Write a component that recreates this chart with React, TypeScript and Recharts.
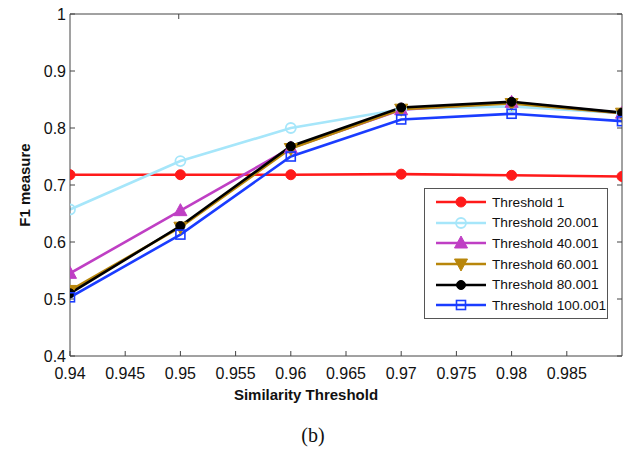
import React from "react";
import { LineChart, Line, XAxis, YAxis } from "recharts";

const xValues = [0.94, 0.95, 0.96, 0.97, 0.98, 0.99];
const xTicks = [0.94, 0.945, 0.95, 0.955, 0.96, 0.965, 0.97, 0.975, 0.98, 0.985];
const yTicks = [0.4, 0.5, 0.6, 0.7, 0.8, 0.9, 1];

const t1 = [0.718, 0.718, 0.718, 0.719, 0.717, 0.715];
const t20 = [0.657, 0.742, 0.8, 0.833, 0.838, 0.826];
const t40 = [0.545, 0.655, 0.765, 0.832, 0.845, 0.826];
const t60 = [0.515, 0.626, 0.764, 0.833, 0.843, 0.826];
const t80 = [0.51, 0.628, 0.768, 0.836, 0.846, 0.827];
const t100 = [0.503, 0.613, 0.75, 0.815, 0.825, 0.812];

const data = xValues.map((x, i) => ({
  x,
  t1: t1[i],
  t20: t20[i],
  t40: t40[i],
  t60: t60[i],
  t80: t80[i],
  t100: t100[i],
}));

type Marker = "dot" | "ring" | "up" | "down" | "small" | "square";

const series: { key: string; name: string; color: string; marker: Marker }[] = [
  { key: "t1", name: "Threshold 1", color: "#ff1a1a", marker: "dot" },
  { key: "t20", name: "Threshold 20.001", color: "#a6e6fa", marker: "ring" },
  { key: "t40", name: "Threshold 40.001", color: "#bf3fc4", marker: "up" },
  { key: "t60", name: "Threshold 60.001", color: "#b8860b", marker: "down" },
  { key: "t80", name: "Threshold 80.001", color: "#000000", marker: "small" },
  { key: "t100", name: "Threshold 100.001", color: "#1a3cff", marker: "square" },
];

function markerShape(marker: Marker, color: string, cx: number, cy: number, key?: any) {
  switch (marker) {
    case "dot":
      return <circle key={key} cx={cx} cy={cy} r={5} fill={color} stroke={color} />;
    case "ring":
      return <circle key={key} cx={cx} cy={cy} r={5} fill="none" stroke={color} strokeWidth={1.8} />;
    case "up":
      return (
        <polygon
          key={key}
          points={`${cx},${cy - 7} ${cx - 6.5},${cy + 5} ${cx + 6.5},${cy + 5}`}
          fill={color}
          stroke={color}
        />
      );
    case "down":
      return (
        <polygon
          key={key}
          points={`${cx},${cy + 7} ${cx - 6.5},${cy - 5} ${cx + 6.5},${cy - 5}`}
          fill={color}
          stroke={color}
        />
      );
    case "small":
      return <circle key={key} cx={cx} cy={cy} r={4.5} fill={color} stroke={color} />;
    case "square":
      return (
        <rect
          key={key}
          x={cx - 4.5}
          y={cy - 4.5}
          width={9}
          height={9}
          fill="none"
          stroke={color}
          strokeWidth={1.6}
        />
      );
  }
}

const FrameLegend = () => (
  <div
    style={{
      position: "absolute",
      left: 424,
      top: 188,
      width: 184,
      height: 131,
      boxSizing: "border-box",
      border: "1px solid #555",
      background: "#fff",
      paddingTop: 3,
      fontFamily: "Liberation Sans, Arial, sans-serif",
      fontSize: 13.7,
      color: "#111",
    }}
  >
    {series.map((s) => (
      <div key={s.key} style={{ display: "flex", alignItems: "center", height: 20.6 }}>
        <svg width={66} height={20} style={{ display: "block" }}>
          <line x1={11} y1={10} x2={61} y2={10} stroke={s.color} strokeWidth={2.5} />
          {markerShape(s.marker, s.color, 36, 10)}
        </svg>
        <span style={{ marginLeft: 1, whiteSpace: "nowrap" }}>{s.name}</span>
      </div>
    ))}
  </div>
);

const tickStyle = { fill: "#111", fontSize: 16, fontFamily: "Liberation Sans, Arial, sans-serif" };

export default function App() {
  return (
    <div style={{ position: "absolute", left: 0, top: 0, width: 626, height: 457, background: "#fff" }}>
      <LineChart
        width={626}
        height={457}
        data={data}
        margin={{ top: 13, right: 3, left: 0, bottom: 61 }}
      >
        <XAxis
          dataKey="x"
          type="number"
          domain={[0.94, 0.99]}
          ticks={xTicks}
          tickFormatter={(v: number) => String(+v.toFixed(3))}
          tick={tickStyle}
          tickSize={-5}
          tickMargin={17}
          height={40}
          stroke="#444"
          allowDataOverflow
          label={({ viewBox }: any) => (
            <text
              x={viewBox.x + 236}
              y={viewBox.y + 44}
              textAnchor="middle"
              fontWeight="bold"
              fontSize={15}
              fontFamily="Liberation Sans, Arial, sans-serif"
              fill="#111"
            >
              Similarity Threshold
            </text>
          )}
        />
        <XAxis
          xAxisId="top"
          orientation="top"
          type="number"
          domain={[0.94, 0.99]}
          ticks={xTicks}
          tickFormatter={() => ""}
          tickSize={-5}
          height={1}
          stroke="#444"
          allowDataOverflow
        />
        <YAxis
          type="number"
          domain={[0.4, 1]}
          ticks={yTicks}
          tickFormatter={(v: number) => String(+v.toFixed(1))}
          tick={tickStyle}
          tickSize={-5}
          tickMargin={9}
          width={70}
          stroke="#444"
          allowDataOverflow
          label={({ viewBox }: any) => (
            <text
              x={viewBox.x + 30}
              y={viewBox.y + viewBox.height / 2}
              transform={`rotate(-90 ${viewBox.x + 30} ${viewBox.y + viewBox.height / 2})`}
              textAnchor="middle"
              fontWeight="bold"
              fontSize={15}
              fontFamily="Liberation Sans, Arial, sans-serif"
              fill="#111"
            >
              F1 measure
            </text>
          )}
        />
        <YAxis
          yAxisId="right"
          orientation="right"
          type="number"
          domain={[0.4, 1]}
          ticks={yTicks}
          tickFormatter={() => ""}
          tickSize={-5}
          width={1}
          stroke="#444"
          allowDataOverflow
        />
        {series.map((s) => (
          <Line
            key={s.key}
            dataKey={s.key}
            name={s.name}
            type="linear"
            stroke={s.color}
            strokeWidth={2.6}
            isAnimationActive={false}
            dot={(p: any) => markerShape(s.marker, s.color, p.cx, p.cy, `${s.key}-${p.index}`)}
          />
        ))}
      </LineChart>
      <FrameLegend />
      <div
        style={{
          position: "absolute",
          left: 0,
          width: 626,
          top: 424,
          textAlign: "center",
          fontFamily: "Liberation Serif, Times New Roman, serif",
          fontSize: 20,
          color: "#111",
        }}
      >
        (b)
      </div>
    </div>
  );
}
